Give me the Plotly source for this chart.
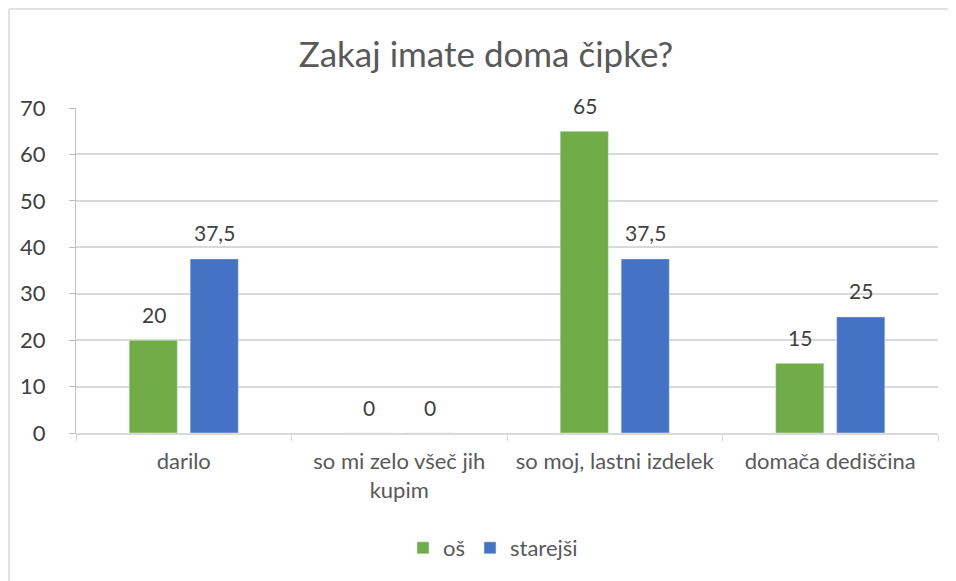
import plotly.graph_objects as go

categories = ["darilo", "so mi zelo všeč jih<br>kupim", "so moj, lastni izdelek", "domača dediščina"]
os_values = [20, 0, 65, 15]
starejsi_values = [37.5, 0, 37.5, 25]
series_names = ["oš", "starejši"]
y_ticks = [0, 10, 20, 30, 40, 50, 60, 70]

def fmt(v):
    return ("%g" % v).replace(".", ",")

FONT = "Lato, 'Open Sans', sans-serif"
W, H = 948, 573          # page adds an 8px body margin
OFF = 8

fig = go.Figure()
fig.add_trace(go.Bar(x=categories, y=os_values, name=series_names[0],
                     marker=dict(color="#70AD47")))
fig.add_trace(go.Bar(x=categories, y=starejsi_values, name=series_names[1],
                     marker=dict(color="#4472C4")))

annotations = []
for vals, dx in ((os_values, -30), (starejsi_values, 31)):
    for c, v in zip(categories, vals):
        annotations.append(dict(
            x=c, y=v, xref="x", yref="y", text=fmt(v), showarrow=False,
            xshift=dx, yshift=26, yanchor="middle",
            font=dict(size=21, color="#404040", family=FONT)))

fig.update_layout(
    width=W, height=H,
    margin=dict(l=76 - OFF, r=18, t=108 - OFF, b=148),
    paper_bgcolor="white", plot_bgcolor="white",
    font=dict(family=FONT, color="#595959"),
    title=dict(text="Zakaj imate doma čipke?", x=(486 - OFF) / W, xanchor="center",
               y=1 - (55 - OFF) / H, yanchor="middle",
               font=dict(size=35, color="#595959", family=FONT)),
    barmode="group", bargap=0.434, bargroupgap=0.21,
    showlegend=True,
    legend=dict(orientation="h", x=(493 - OFF) / W, xref="container", xanchor="center",
                y=1 - (548 - OFF) / H, yref="container", yanchor="middle",
                font=dict(size=22, color="#595959", family=FONT),
                tracegroupgap=0),
    xaxis=dict(
        showline=True, linecolor="#D9D9D9", linewidth=1.5,
        ticks="outside", tickson="boundaries", ticklen=6, tickcolor="#D9D9D9",
        tickfont=dict(size=22, color="#595959", family=FONT),
        ticklabelstandoff=8,
        showgrid=False,
    ),
    yaxis=dict(
        range=[0, 70], tickvals=y_ticks,
        showline=True, linecolor="#BFBFBF", linewidth=1,
        ticks="outside", ticklen=6, tickcolor="#BFBFBF",
        tickfont=dict(size=22, color="#404040", family=FONT),
        ticklabelstandoff=19,
        showgrid=True, gridcolor="#D9D9D9", gridwidth=1.5,
        zeroline=False,
    ),
    annotations=annotations,
    shapes=[
        dict(type="line", xref="paper", yref="paper",
             x0=(1 - 76 + OFF) / 862, x1=(956 - 76) / 862,
             y0=(433 - 9) / 325, y1=(433 - 9) / 325,
             line=dict(color="#D9D9D9", width=1.5)),
        dict(type="line", xref="paper", yref="paper",
             x0=(1 - 76 + OFF) / 862, x1=(1 - 76 + OFF) / 862,
             y0=(433 - 9) / 325, y1=(433 - 581) / 325,
             line=dict(color="#D9D9D9", width=1.5)),
    ],
)

fig.write_html("out.html")
